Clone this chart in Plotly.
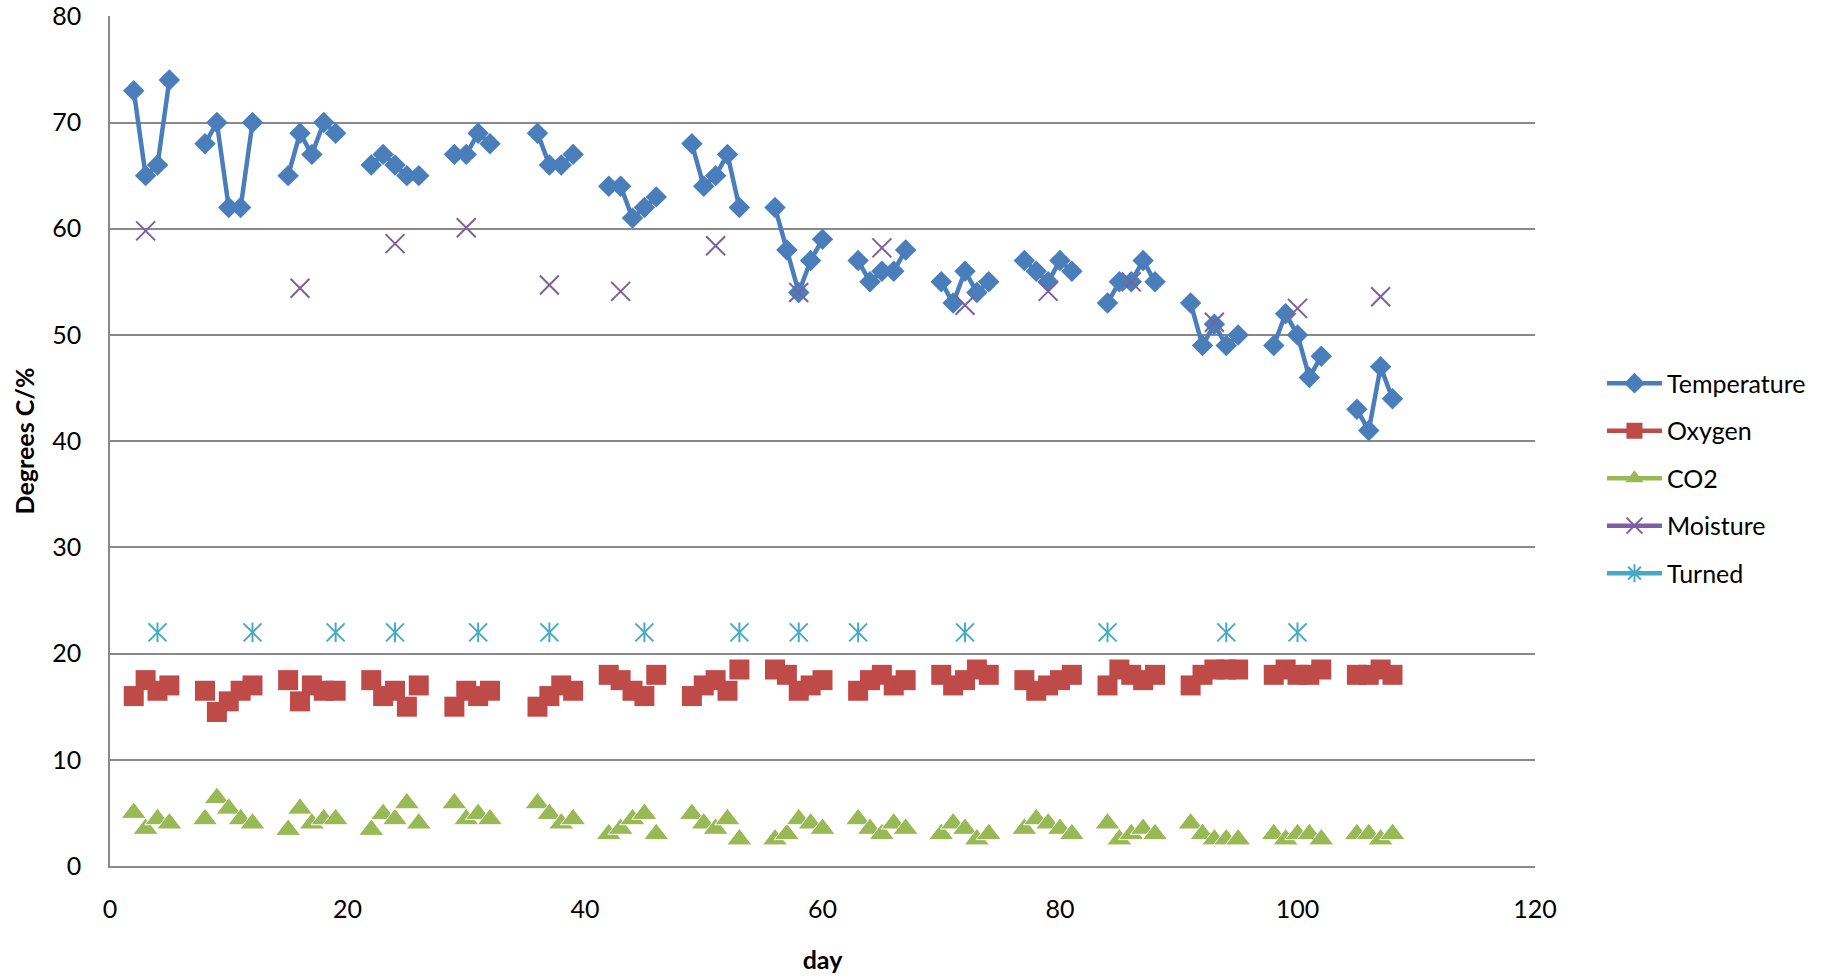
import plotly.graph_objects as go

# ---- data ----
days = [2, 3, 4, 5,
        8, 9, 10, 11, 12,
        15, 16, 17, 18, 19,
        22, 23, 24, 25, 26,
        29, 30, 31, 32,
        36, 37, 38, 39,
        42, 43, 44, 45, 46,
        49, 50, 51, 52, 53,
        56, 57, 58, 59, 60,
        63, 64, 65, 66, 67,
        70, 71, 72, 73, 74,
        77, 78, 79, 80, 81,
        84, 85, 86, 87, 88,
        91, 92, 93, 94, 95,
        98, 99, 100, 101, 102,
        105, 106, 107, 108]

temperature = [73, 65, 66, 74,
               68, 70, 62, 62, 70,
               65, 69, 67, 70, 69,
               66, 67, 66, 65, 65,
               67, 67, 69, 68,
               69, 66, 66, 67,
               64, 64, 61, 62, 63,
               68, 64, 65, 67, 62,
               62, 58, 54, 57, 59,
               57, 55, 56, 56, 58,
               55, 53, 56, 54, 55,
               57, 56, 55, 57, 56,
               53, 55, 55, 57, 55,
               53, 49, 51, 49, 50,
               49, 52, 50, 46, 48,
               43, 41, 47, 44]

oxygen = [16, 17.5, 16.5, 17,
          16.5, 14.5, 15.5, 16.5, 17,
          17.5, 15.5, 17, 16.5, 16.5,
          17.5, 16, 16.5, 15, 17,
          15, 16.5, 16, 16.5,
          15, 16, 17, 16.5,
          18, 17.5, 16.5, 16, 18,
          16, 17, 17.5, 16.5, 18.5,
          18.5, 18, 16.5, 17, 17.5,
          16.5, 17.5, 18, 17, 17.5,
          18, 17, 17.5, 18.5, 18,
          17.5, 16.5, 17, 17.5, 18,
          17, 18.5, 18, 17.5, 18,
          17, 18, 18.5, 18.5, 18.5,
          18, 18.5, 18, 18, 18.5,
          18, 18, 18.5, 18]

co2 = [5, 3.5, 4.4, 4,
       4.4, 6.4, 5.4, 4.4, 4,
       3.4, 5.4, 4, 4.4, 4.4,
       3.4, 4.9, 4.4, 5.9, 4,
       5.9, 4.4, 4.9, 4.4,
       5.9, 4.9, 4, 4.4,
       3, 3.5, 4.4, 4.9, 3,
       4.9, 4, 3.5, 4.4, 2.5,
       2.5, 3, 4.4, 4, 3.5,
       4.4, 3.5, 3, 4, 3.5,
       3, 4, 3.5, 2.5, 3,
       3.5, 4.4, 4, 3.5, 3,
       4, 2.5, 3, 3.5, 3,
       4, 3, 2.5, 2.5, 2.5,
       3, 2.5, 3, 3, 2.5,
       3, 3, 2.5, 3]

moisture_days = [3, 16, 24, 30, 37, 43, 51, 58, 65, 72, 79, 86, 93, 100, 107]
moisture = [59.8, 54.4, 58.6, 60.1, 54.7, 54.1, 58.4, 54.0, 58.2, 52.8, 54.1, 55.0, 51.2, 52.5, 53.6]

turned_days = [4, 12, 19, 24, 31, 37, 45, 53, 58, 63, 72, 84, 94, 100]
turned = [22, 22, 22, 22, 22, 22, 22, 22, 22, 22, 22, 22, 22, 22]

x_ticks = [0, 20, 40, 60, 80, 100, 120]
y_ticks = [0, 10, 20, 30, 40, 50, 60, 70, 80]

# ---- styling ----
C_TEMP = "#4A7EBB"
C_OXY = "#BE4B48"
C_CO2 = "#98B954"
C_MOIST = "#7D60A0"
C_TURN = "#46AAC5"
GRID = "#898989"
FONT = "Lato"
FS = 25

# temperature line broken on missing days (blank cells)
tx, ty = [], []
for i, (d, v) in enumerate(zip(days, temperature)):
    if i > 0 and d - days[i - 1] > 1:
        tx.append(None)
        ty.append(None)
    tx.append(d)
    ty.append(v)

fig = go.Figure()

fig.add_trace(go.Scatter(x=tx, y=ty, mode="lines+markers", name="Temperature",
                         line=dict(color=C_TEMP, width=4.5), connectgaps=False,
                         marker=dict(symbol="diamond", size=16.5, color=C_TEMP),
                         legendgroup="t"))
fig.add_trace(go.Scatter(x=days, y=oxygen, mode="markers", name="Oxygen", showlegend=False,
                         marker=dict(symbol="square", size=20, color=C_OXY)))
fig.add_trace(go.Scatter(x=days, y=co2, mode="markers", name="CO2", showlegend=False,
                         marker=dict(symbol="triangle-up", size=22, color=C_CO2,
                                     line=dict(color="white", width=1))))
fig.add_trace(go.Scatter(x=moisture_days, y=moisture, mode="markers", name="Moisture", showlegend=False,
                         marker=dict(symbol="x-thin", size=19, color=C_MOIST,
                                     line=dict(color=C_MOIST, width=2))))
fig.add_trace(go.Scatter(x=turned_days, y=turned, mode="markers", name="Turned", showlegend=False,
                         marker=dict(symbol="x-thin", size=18, color=C_TURN,
                                     line=dict(color=C_TURN, width=2))))
fig.add_trace(go.Scatter(x=turned_days, y=turned, mode="markers", name="Turned", showlegend=False,
                         marker=dict(symbol="line-ns", size=14, color=C_TURN,
                                     line=dict(color=C_TURN, width=2))))

# legend entries (line + marker, as in the reference legend)
fig.add_trace(go.Scatter(x=[None], y=[None], mode="lines+markers", name="Oxygen", legendgroup="o",
                         line=dict(color=C_OXY, width=4.5),
                         marker=dict(symbol="square", size=17, color=C_OXY)))
fig.add_trace(go.Scatter(x=[None], y=[None], mode="lines+markers", name="CO2", legendgroup="c",
                         line=dict(color=C_CO2, width=4.5),
                         marker=dict(symbol="triangle-up", size=17, color=C_CO2)))
fig.add_trace(go.Scatter(x=[None], y=[None], mode="lines+markers", name="Moisture", legendgroup="m",
                         line=dict(color=C_MOIST, width=4.5),
                         marker=dict(symbol="x-thin", size=17, color=C_MOIST,
                                     line=dict(color=C_MOIST, width=2))))
fig.add_trace(go.Scatter(x=[None], y=[None], mode="lines+markers", name="Turned", legendgroup="u",
                         line=dict(color=C_TURN, width=4.5),
                         marker=dict(symbol="asterisk", size=15, color=C_TURN,
                                     line=dict(color=C_TURN, width=2))))

fig.update_layout(
    width=1827, height=979,
    margin=dict(l=110, r=292, t=16, b=113),
    paper_bgcolor="white", plot_bgcolor="white",
    font=dict(family=FONT, size=FS, color="black"),
    legend=dict(x=1.047, y=0.456, xanchor="left", yanchor="middle",
                font=dict(family=FONT, size=FS), itemwidth=55,
                tracegroupgap=12, bgcolor="rgba(0,0,0,0)"),
    xaxis=dict(range=[0, 120], tickvals=x_ticks, showgrid=False, zeroline=False,
               showline=True, linecolor=GRID, linewidth=1.5, ticks="",
               ticklabelstandoff=20, automargin=False, ticklabeloverflow="allow",
               title=dict(text="<b>day</b>", font=dict(family=FONT, size=FS), standoff=30)),
    yaxis=dict(range=[0, 80.03], tickvals=y_ticks, showgrid=True, gridcolor=GRID, gridwidth=1.5,
               zeroline=False, showline=True, linecolor=GRID, linewidth=1.5, ticks="",
               ticklabelstandoff=22, automargin=False, ticklabeloverflow="allow",
               title=dict(text="<b>Degrees C/%</b>", font=dict(family=FONT, size=FS), standoff=10)),
)

fig.write_html("out.html", config={"displayModeBar": False},
               post_script="document.body.style.margin='0';")
